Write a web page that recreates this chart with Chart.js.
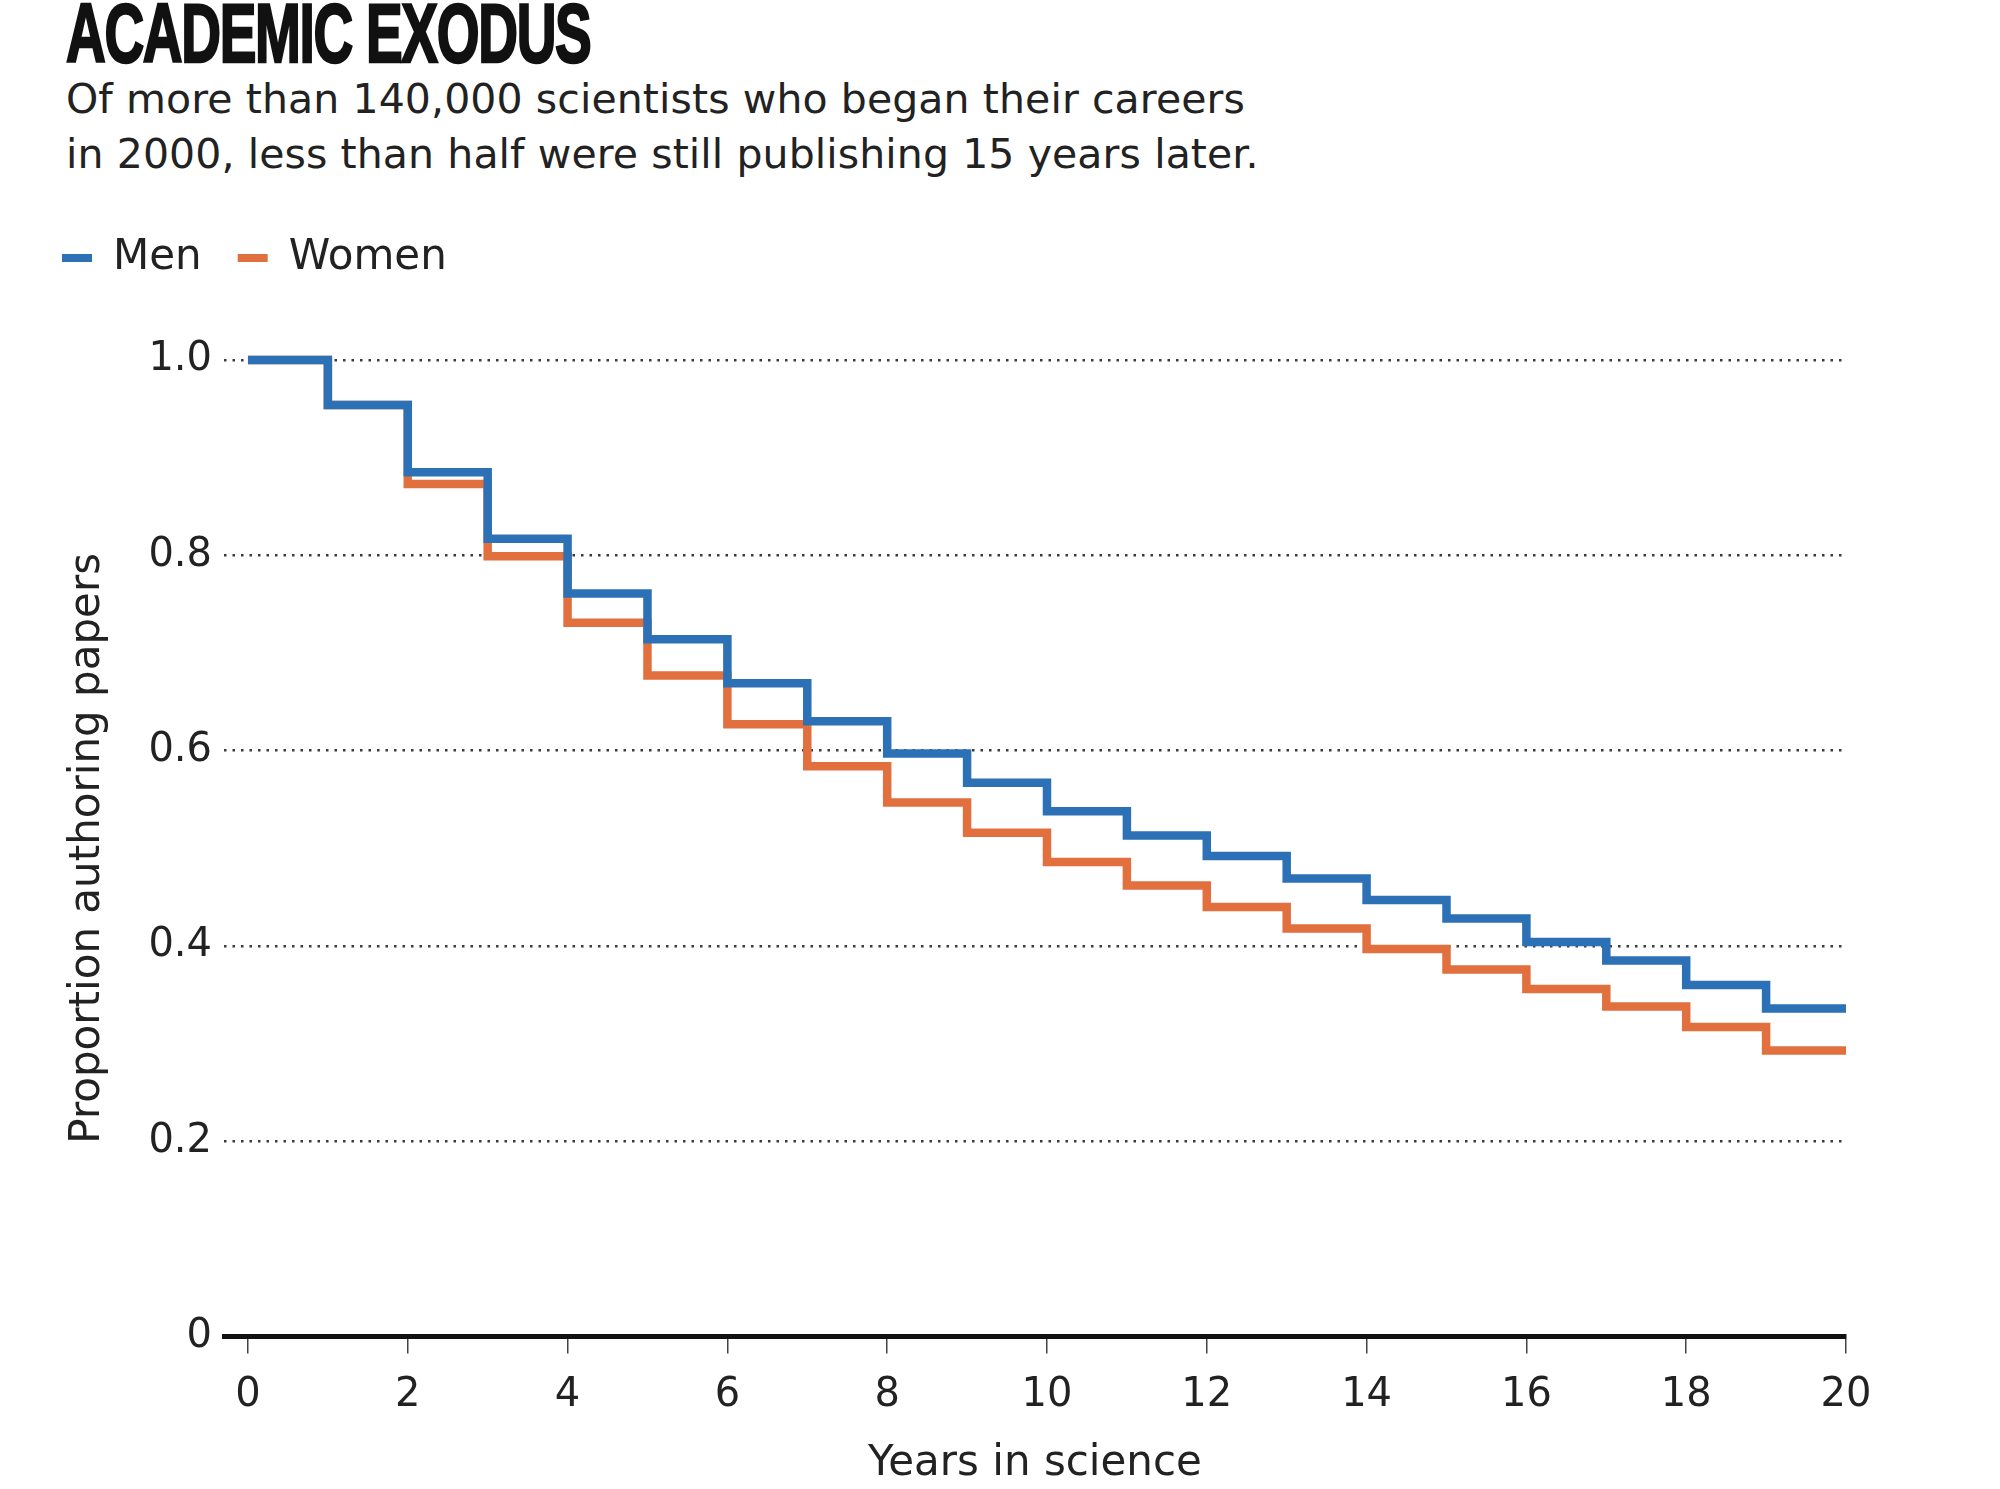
<!DOCTYPE html>
<html>
<head>
<meta charset="utf-8">
<script src="https://cdn.jsdelivr.net/npm/chart.js@4.4.1/dist/chart.umd.min.js"></script>
<style>
  html, body { margin: 0; padding: 0; background: #fff; }
  body { width: 2000px; height: 1489px; position: relative; overflow: hidden; font-family: "DejaVu Sans", sans-serif; color: #222; }
  #title { position: absolute; left: 66px; top: -15px; font-family: "Liberation Sans Narrow", sans-serif; font-weight: bold; font-size: 84px; letter-spacing: -2px; color: #111; -webkit-text-stroke: 2.5px #111; transform: scaleX(0.655); transform-origin: left top; white-space: nowrap; }
  #subtitle { position: absolute; left: 66px; top: 72px; font-size: 41px; letter-spacing: 0.1px; line-height: 55px; color: #222; }
  #chart { position: absolute; left: 0; top: 190px; }
</style>
</head>
<body>
<div id="title">ACADEMIC EXODUS</div>
<div id="subtitle">Of more than 140,000 scientists who began their careers<br>in 2000, less than half were still publishing 15 years later.</div>
<canvas id="chart" width="2000" height="1299"></canvas>
<script>
const years = [0, 1, 2, 3, 4, 5, 6, 7, 8, 9, 10, 11, 12, 13, 14, 15, 16, 17, 18, 19];
const menValues = [1.0, 0.954, 0.885, 0.817, 0.761, 0.714, 0.669, 0.630, 0.597, 0.567,
  0.538, 0.513, 0.492, 0.469, 0.447, 0.428, 0.404, 0.385, 0.360, 0.336];
const womenValues = [1.0, 0.954, 0.873, 0.799, 0.731, 0.677, 0.627, 0.584, 0.547, 0.516,
  0.486, 0.462, 0.440, 0.418, 0.397, 0.376, 0.356, 0.338, 0.317, 0.293];
const lastYear = 20;
const xTicks = [0, 2, 4, 6, 8, 10, 12, 14, 16, 18, 20];
const yTicks = [0, 0.2, 0.4, 0.6, 0.8, 1.0];

const BLUE = "#2c70b5";
const ORANGE = "#e2703f";
const TEXT = "#222";
const FONT = "DejaVu Sans";

// each value holds for one year, so repeat the last one at year 20
function toSteps(values) {
  const points = years.map((year, i) => ({ x: year, y: values[i] }));
  points.push({ x: lastYear, y: values[values.length - 1] });
  return points;
}

// extra room between the legend and the plot
const legendSpacer = {
  id: "legendSpacer",
  afterInit(chart) {
    const fit = chart.legend.fit;
    chart.legend.fit = function () {
      fit.call(this);
      this.height += 71;
    };
  }
};

function stepLine(label, values, color) {
  return {
    label,
    data: toSteps(values),
    borderColor: color,
    backgroundColor: color,
    borderWidth: 8.5,
    stepped: "before",
    pointRadius: 0,
    borderCapStyle: "butt",
    borderJoinStyle: "miter",
    clip: false
  };
}

const ctx = document.getElementById("chart").getContext("2d");

new Chart(ctx, {
  type: "line",
  data: {
    datasets: [
      stepLine("Men", menValues, BLUE),
      stepLine("Women", womenValues, ORANGE)
    ]
  },
  options: {
    responsive: false,
    animation: false,
    layout: {
      padding: { top: 11, left: 26, right: 154, bottom: 0 }
    },
    plugins: {
      legend: {
        position: "top",
        align: "start",
        labels: {
          boxWidth: 30,
          boxHeight: 8,
          padding: 36,
          color: TEXT,
          font: { family: FONT, size: 42 },
          generateLabels: chart =>
            Chart.defaults.plugins.legend.labels.generateLabels(chart)
              .map(item => ({ ...item, lineWidth: 0 }))
        }
      },
      tooltip: { enabled: false }
    },
    scales: {
      x: {
        type: "linear",
        min: -0.3,
        max: lastYear,
        afterBuildTicks: scale => {
          scale.ticks = xTicks.map(value => ({ value }));
        },
        ticks: {
          color: TEXT,
          padding: 18,
          maxRotation: 0,
          font: { family: FONT, size: 40 },
          callback: value => String(value)
        },
        grid: {
          drawOnChartArea: false,
          drawTicks: true,
          tickLength: 17,
          color: "#444",
          lineWidth: 1.5
        },
        border: {
          display: true,
          color: "#111",
          width: 5
        },
        title: {
          display: true,
          text: "Years in science",
          color: TEXT,
          padding: { top: 1, bottom: 0 },
          font: { family: FONT, size: 42 }
        }
      },
      y: {
        min: 0,
        max: 1,
        afterBuildTicks: scale => {
          scale.ticks = yTicks.map(value => ({ value }));
        },
        afterFit: scale => {
          scale.width = 198;
        },
        ticks: {
          color: TEXT,
          padding: 12,
          font: { family: FONT, size: 40 },
          callback: value => (value === 0 ? "0" : value.toFixed(1))
        },
        grid: {
          drawTicks: false,
          color: c => (c.tick && c.tick.value === 0 ? "rgba(0,0,0,0)" : "#3a3a3a"),
          lineWidth: 2.5
        },
        border: {
          display: false,
          dash: [2.5, 6]
        },
        title: {
          display: true,
          text: "Proportion authoring papers",
          color: TEXT,
          padding: { top: 37, bottom: 10 },
          font: { family: FONT, size: 42 }
        }
      }
    }
  },
  plugins: [legendSpacer]
});
</script>
</body>
</html>
